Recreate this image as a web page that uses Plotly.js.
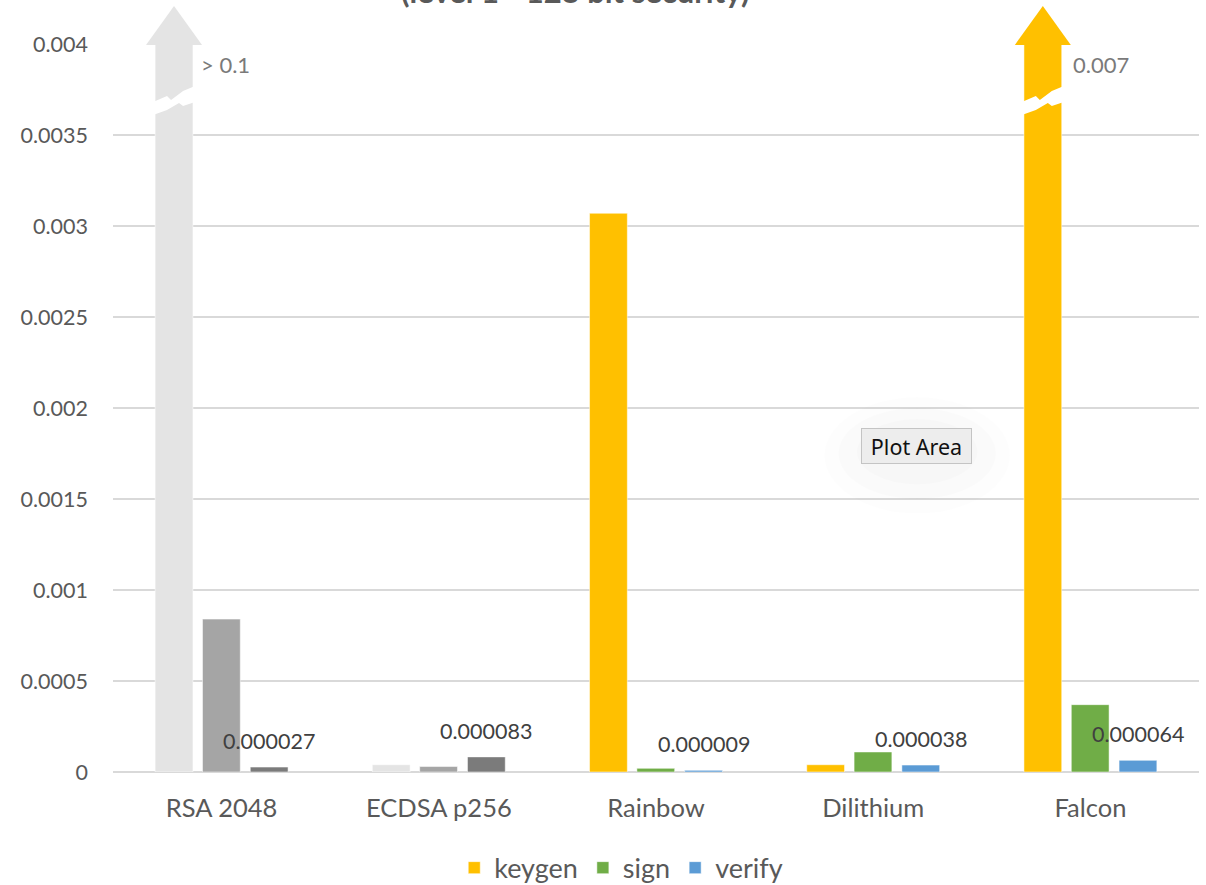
<!DOCTYPE html>
<html><head><meta charset="utf-8">
<script src="https://cdn.plot.ly/plotly-3.0.1.min.js"></script>
<style>html,body{margin:0;padding:0;background:#fff}#chart{width:1206px;height:885px}</style>
</head><body><div id="chart"></div>
<script>
// ---- data ----
const categories = ["RSA 2048", "ECDSA p256", "Rainbow", "Dilithium", "Falcon"];
const seriesNames = ["keygen", "sign", "verify"];
const keygen = [0.1, 0.00004, 0.00307, 0.00004, 0.007];
const sign = [0.00084, 0.00003, 0.00002, 0.00011, 0.00037];
const verify = [0.000027, 0.000083, 0.000009, 0.000038, 0.000064];
const verifyLabels = ["0.000027", "0.000083", "0.000009", "0.000038", "0.000064"];
const keygenOffScaleLabels = ["> 0.1", "", "", "", "0.007"];
const classicalCount = 2; // RSA 2048, ECDSA p256 drawn in grey
const yTickVals = [0, 0.0005, 0.001, 0.0015, 0.002, 0.0025, 0.003, 0.0035, 0.004];
const yTickText = ["0", "0.0005", "0.001", "0.0015", "0.002", "0.0025", "0.003", "0.0035", "0.004"];
const titleText = "(level 1 - 128 bit security)";

// ---- style ----
const pqcColors = ["#FFC000", "#70AD47", "#5B9BD5"];
const classicalColors = ["#E4E4E4", "#A5A5A5", "#7B7B7B"];
const barWidth = 0.174;
const barOffsets = [-0.306, -0.088, 0.132];
const yMax = yTickVals[yTickVals.length - 1];
const FONT = "Lato, 'Open Sans', sans-serif";

const seriesVals = [keygen, sign, verify];
const idx = categories.map((_, i) => i);
const traces = [];
seriesVals.forEach((vals, s) => {
  traces.push({
    type: "bar", x: idx.slice(0, classicalCount), y: vals.slice(0, classicalCount),
    width: barWidth, offset: barOffsets[s], name: seriesNames[s], showlegend: false,
    marker: {color: classicalColors[s], line: {color: "rgba(255,255,255,0.5)", width: 1}},
    hoverinfo: "y"
  });
});
seriesVals.forEach((vals, s) => {
  traces.push({
    type: "bar", x: idx.slice(classicalCount), y: vals.slice(classicalCount),
    width: barWidth, offset: barOffsets[s], name: seriesNames[s], showlegend: true,
    marker: {color: pqcColors[s], line: {color: "rgba(255,255,255,0.5)", width: 1}},
    hoverinfo: "y"
  });
});

const annotations = [];
verify.forEach((v, i) => {
  annotations.push({
    xref: "x", yref: "y", x: i + barOffsets[2] + barWidth / 2, y: v,
    text: verifyLabels[i], showarrow: false, yanchor: "middle", yshift: 26,
    font: {family: FONT, size: 21.5, color: "#404040"}
  });
});

const shapes = [];
keygen.forEach((v, i) => {
  if (v <= yMax) return;
  const col = i < classicalCount ? classicalColors[0] : pqcColors[0];
  const cx = i + barOffsets[0] + barWidth / 2;
  // arrow head above the clipped bar
  shapes.push({
    type: "path", xref: "x", yref: "paper", xsizemode: "pixel", ysizemode: "pixel",
    xanchor: cx, yanchor: 1, path: "M -28,-1 L 28,-1 L 0,38 Z",
    fillcolor: col, line: {width: 0}
  });
  // axis-break zigzag
  shapes.push({
    type: "path", xref: "x", yref: "paper", xsizemode: "pixel", ysizemode: "pixel",
    xanchor: cx, yanchor: 1,
    path: "M -21,-58 L -7,-52 L -3,-56 L 9,-47 L 21,-42 L 21,-58 L 9,-62 L 5,-59 L -7,-66 L -21,-71 Z",
    fillcolor: "#ffffff", line: {width: 0}
  });
  annotations.push({
    xref: "x", yref: "paper", x: i + barOffsets[0] + barWidth, y: 1,
    xanchor: "left", yanchor: "middle", xshift: i < classicalCount ? 6 : 9, yshift: -20,
    text: keygenOffScaleLabels[i], showarrow: false,
    font: {family: FONT, size: 22, color: "#7A7A7A"}
  });
});

// "Plot Area" hover tag (Excel UI) with soft glow
[[0.655, 0.826, 0.355, 0.515, 0.008], [0.668, 0.813, 0.375, 0.5, 0.01], [0.685, 0.796, 0.395, 0.485, 0.012]]
  .forEach(g => shapes.push({type: "circle", xref: "paper", yref: "paper", x0: g[0], x1: g[1], y0: g[2], y1: g[3],
    fillcolor: "rgba(0,0,0," + g[4] + ")", line: {width: 0}}));
annotations.push({
  xref: "paper", yref: "paper", x: 0.740, y: 0.448, xanchor: "center", yanchor: "middle",
  text: "Plot Area", showarrow: false, bgcolor: "#EDEDED", bordercolor: "#C4C4C4", borderwidth: 1,
  borderpad: 3, width: 103, height: 28, font: {family: "'Noto Sans', sans-serif", size: 21.5, color: "#111111"}
});

const layout = {
  width: 1206, height: 885,
  margin: {l: 113, r: 7, t: 44, b: 113, autoexpand: false},
  paper_bgcolor: "#ffffff", plot_bgcolor: "#ffffff",
  barmode: "overlay",
  font: {family: FONT, color: "#595959"},
  title: {text: titleText, x: 0.477, xanchor: "center", xref: "container",
          y: 0.997, yref: "container", yanchor: "bottom",
          font: {family: FONT, size: 31, color: "#595959", weight: 700}},
  xaxis: {type: "linear", range: [-0.5, 4.5], tickvals: idx, ticktext: categories,
          showgrid: false, zeroline: false, showline: false, ticks: "",
          tickfont: {family: FONT, size: 25.5, color: "#595959"}, ticklabelstandoff: 18, fixedrange: true},
  yaxis: {range: [0, yMax], tickvals: yTickVals, ticktext: yTickText,
          showgrid: true, gridcolor: "#D9D9D9", gridwidth: 1.5,
          zeroline: true, zerolinecolor: "#D9D9D9", zerolinewidth: 2, showline: false, ticks: "",
          tickfont: {family: FONT, size: 21.5, color: "#595959"}, ticklabelstandoff: 24, fixedrange: true},
  legend: {orientation: "h", x: 0.468, xanchor: "center", y: -0.132, yanchor: "middle",
           font: {family: FONT, size: 27, color: "#595959"}, traceorder: "normal"},
  annotations: annotations,
  shapes: shapes,
  showlegend: true
};

Plotly.newPlot("chart", traces, layout, {displayModeBar: false, staticPlot: true});
</script>
</body></html>
